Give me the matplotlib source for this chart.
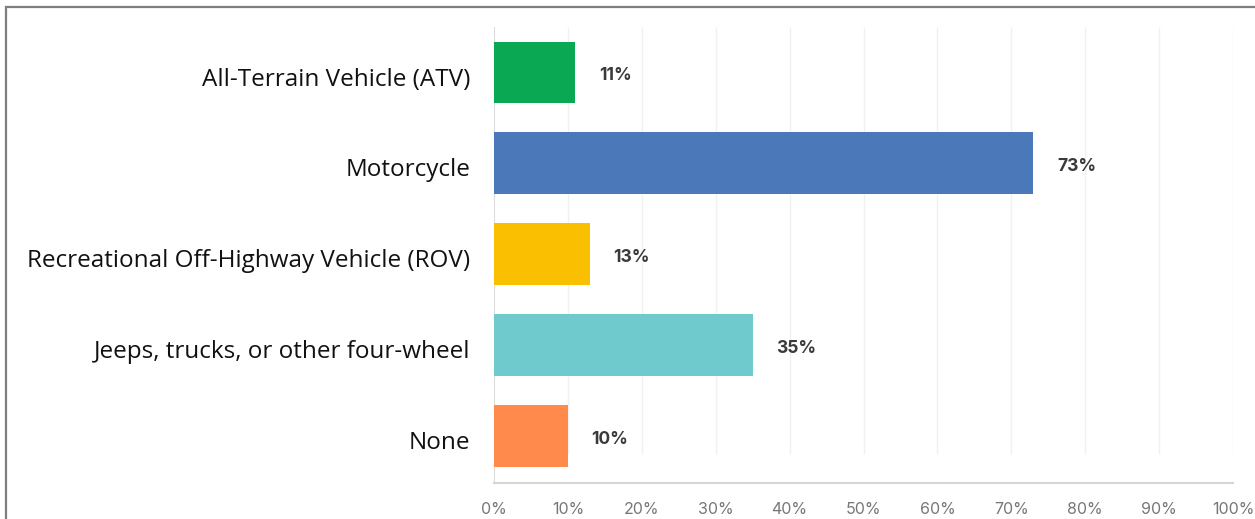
import matplotlib.pyplot as plt
import matplotlib.transforms as mtransforms
from matplotlib.patches import Rectangle

# data
categories = [
    "All-Terrain Vehicle (ATV)",
    "Motorcycle",
    "Recreational Off-Highway Vehicle (ROV)",
    "Jeeps, trucks, or other four-wheel",
    "None",
]
values = [11, 73, 13, 35, 10]
bar_colors = ["#0BA853", "#4A78B8", "#F9BF00", "#6ECACC", "#FF8A4C"]
tick_values = list(range(0, 101, 10))
tick_labels = ["%d%%" % t for t in tick_values]

fig = plt.figure(figsize=(12.55, 5.19), dpi=100)
ax = fig.add_axes([494 / 1255, 1 - 483 / 519, (1233 - 494) / 1255, (483 - 27) / 519])

ypos = list(range(len(categories)))
ax.barh(ypos, values, height=0.68, color=bar_colors, zorder=3)

# faint vertical gridlines, stopping short of the axis line
ax.vlines(tick_values[1:], -0.5, 4.2, colors="#F1F1F1", linewidth=1, zorder=1)

for y, v in zip(ypos, values):
    ax.annotate("%d%%" % v, (v, y), xytext=(17, -2.5), textcoords="offset points",
                va="center", ha="left", fontsize=12.5, fontweight="bold",
                color="#3A3A3A", family="Inter")

ax.set_xlim(0, 100)
ax.set_ylim(4.52, -0.5)
ax.set_xticks(tick_values)
ax.set_xticklabels(tick_labels, fontsize=11.5, color="#777777", family="Inter")
ax.set_yticks(ypos)
ax.set_yticklabels(categories, fontsize=17.5, color="#111111", family="Open Sans")
ax.tick_params(axis="y", length=0, pad=17)
ax.tick_params(axis="x", length=0, pad=14)

# category labels sit a little below the bar centres
shift = mtransforms.ScaledTranslation(0, -3 / 72, fig.dpi_scale_trans)
for lbl in ax.get_yticklabels():
    lbl.set_transform(lbl.get_transform() + shift)

for side in ["top", "right"]:
    ax.spines[side].set_visible(False)
ax.spines["left"].set_color("#DDDDDD")
ax.spines["bottom"].set_color("#D5D5D5")
ax.spines["bottom"].set_linewidth(1.5)

# outer gray frame (only top and left visible in the crop)
fig.patches.append(Rectangle((6 / 1255, -0.1), 1.2, 1.1 - 7 / 519,
                             transform=fig.transFigure, fill=False,
                             edgecolor="#7F7F7F", linewidth=1.6))

fig.savefig("out.png", dpi=100)
